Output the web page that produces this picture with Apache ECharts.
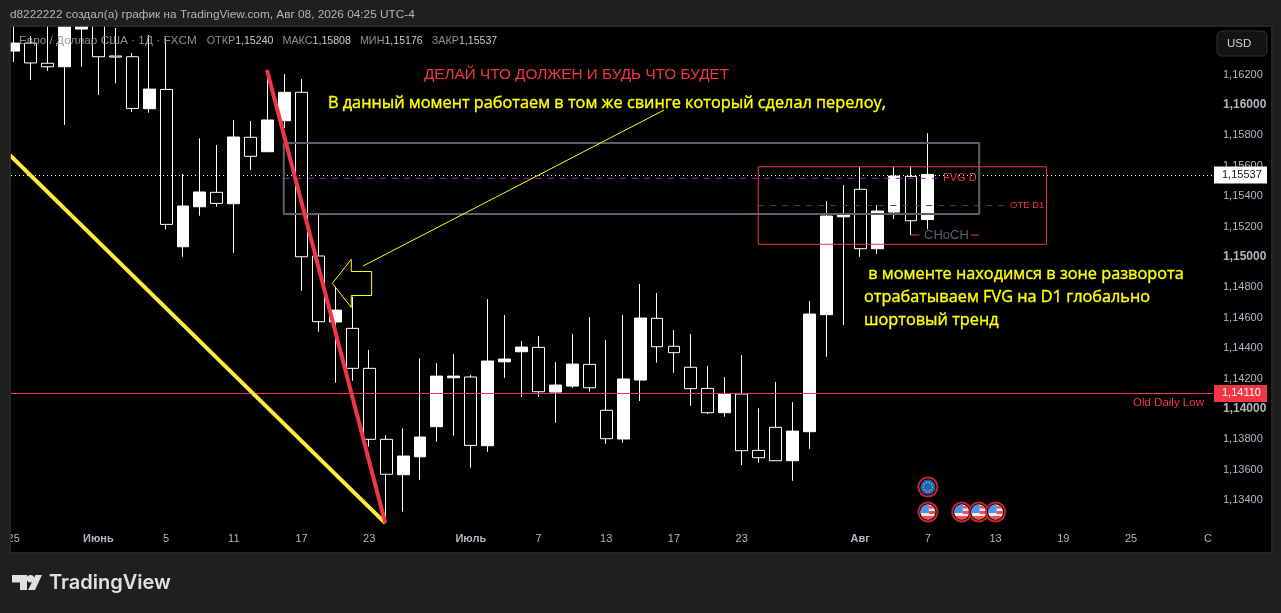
<!DOCTYPE html>
<html><head><meta charset="utf-8">
<style>html,body{margin:0;padding:0;background:#1f1f1f;overflow:hidden}#c{width:1281px;height:613px}</style>
<script src="https://cdn.jsdelivr.net/npm/echarts@6/dist/echarts.min.js"></script>
</head><body><div id="c"></div>
<script>
// candles: index = trading day
const opens=[1.16348,1.16401,1.16268,1.16245,1.16493,1.16539,1.16316,1.16311,1.15969,1.16096,1.15061,1.15324,1.15419,1.15344,1.15781,1.15686,1.1589,1.16077,1.15,1.14566,1.14524,1.14261,1.13794,1.13561,1.13679,1.13877,1.14199,1.14204,1.13752,1.14304,1.1437,1.14399,1.14105,1.14144,1.14287,1.13985,1.13796,1.14184,1.1459,1.14406,1.14268,1.14129,1.13969,1.14092,1.13721,1.13873,1.13653,1.13844,1.14614,1.15258,1.15439,1.15048,1.15289,1.15524,1.1524];
const closes=[1.16401,1.1627,1.16245,1.16552,1.16539,1.16311,1.16309,1.15971,1.16098,1.15208,1.15329,1.15421,1.15346,1.15783,1.15656,1.15895,1.16077,1.14995,1.14568,1.14644,1.14261,1.13794,1.13564,1.13684,1.13809,1.1421,1.1421,1.13754,1.14309,1.14322,1.14401,1.14107,1.14151,1.14289,1.14133,1.13798,1.14191,1.14592,1.14403,1.14364,1.14127,1.13969,1.14094,1.13719,1.13673,1.13653,1.13848,1.14618,1.15263,1.1527,1.15048,1.15296,1.15526,1.15232,1.15537];
const lows=[1.16276,1.16158,1.16219,1.15862,1.16245,1.16059,1.16136,1.15949,1.15943,1.15175,1.14995,1.15265,1.15324,1.15021,1.15566,1.15686,1.15842,1.14771,1.14502,1.14166,1.14179,1.13745,1.13243,1.13318,1.13528,1.13778,1.13818,1.13607,1.13712,1.14199,1.14074,1.14074,1.13903,1.14133,1.14107,1.13765,1.13771,1.14046,1.14298,1.14232,1.14015,1.1396,1.13943,1.13625,1.1364,1.13653,1.13521,1.13732,1.14337,1.14546,1.14995,1.15013,1.15243,1.15136,1.15176];
const highs=[1.16552,1.16447,1.16552,1.1659,1.1659,1.1659,1.165,1.16335,1.16454,1.16434,1.15539,1.15774,1.1573,1.15895,1.15888,1.16223,1.16197,1.16164,1.1527,1.14798,1.14732,1.14381,1.13822,1.13866,1.14327,1.14294,1.14355,1.14217,1.14717,1.14612,1.14441,1.14474,1.14302,1.14487,1.14598,1.14447,1.14612,1.14816,1.14756,1.14513,1.14487,1.14276,1.14204,1.14348,1.13998,1.14171,1.14039,1.14704,1.15362,1.15467,1.15585,1.15335,1.15585,1.15587,1.15808];

const priceTicks=[1.134,1.136,1.138,1.14,1.142,1.144,1.146,1.148,1.15,1.152,1.154,1.156,1.158,1.16,1.162];
const boldPrices=[1.14,1.15,1.16];
const dateTickIndex=[0,5,9,13,17,21,27,31,35,39,43,50,54,58,62,66,70.54];
const dateTickLabels=['25','Июнь','5','11','17','23','Июль','7','13','17','23','Авг','7','13','19','25','С'];
const boldDates=['Июнь','Июль','Авг'];

const lastPrice=1.15537, lastPriceLine=1.15533;
const lowLevelLabel=1.1411, lowLevelLine=1.14096;

// drawings, in [day index, price]
const yellowTrend=[[-0.22,1.15664],[21.95,1.13243]];
const redTrend=[[14.96,1.16223],[21.95,1.13243]];
const thinLine=[[20.63,1.14934],[38.41,1.1596]];
const arrowShape=[[18.82,1.14820],[19.94,1.14978],[19.94,1.14898],[21.14,1.14898],[21.14,1.14740],[19.94,1.14740],[19.94,1.14662],[18.82,1.14820]];
const grayBox=[[15.95,1.15743],[57.03,1.15743],[57.03,1.15276],[15.95,1.15276],[15.95,1.15743]];
const redBox=[[43.98,1.15587],[61.01,1.15587],[61.01,1.15077],[43.98,1.15077],[43.98,1.15587]];
const fvgLine=[[15.95,1.15511],[54.6,1.15511]];
const oteLine=[[43.98,1.15332],[58.6,1.15332]];
const chochTicks=[[52.95,1.15138],[53.5,1.15138],null,[56.55,1.15138],[57.03,1.15138]];
const euEvents=[[54,1.1348]];
const usEvents=[[54,1.13316],[56,1.13316],[57,1.13316],[58,1.13316]];

const noteTop='ДЕЛАЙ ЧТО ДОЛЖЕН И БУДЬ ЧТО БУДЕТ';
const noteMain='В данный момент работаем в том же свинге который сделал перелоу,';
const noteSide=[' в моменте находимся в зоне разворота','отрабатываем FVG на D1 глобально','шортовый тренд'];
const headerText='d8222222 создал(а) график на TradingView.com, Авг 08, 2026 04:25 UTC-4';

const RED='#f23645', YEL='#ffff00', GRAY='#5d606b';
const F='"Liberation Sans",Arial,sans-serif', FN='"Open Sans",sans-serif';
const line=(data,color,width,z,type)=>({type:'line',data,symbol:'none',silent:true,z,animation:false,connectNulls:false,
  lineStyle:{color,width,type:type||'solid',cap:'butt'}});
const txt=(x,y,text,fill,size,family,extra)=>({type:'text',z:40,silent:true,x,y,style:Object.assign({text,fill,font:`${size}px ${family||F}`,textVerticalAlign:'middle'},extra||{})});
const note=(x,y,text)=>txt(x,y,text,YEL,16.3,FN,{stroke:YEL,lineWidth:0.35});

function flag(kind){return function(params,api){
  const p=api.coord([api.value(0),api.value(1)]),x=p[0],y=p[1];
  const kids=[{type:'circle',shape:{cx:x,cy:y,r:9.5},style:{fill:'#000',stroke:'#c9222f',lineWidth:2}}];
  if(kind==='eu'){
    kids.push({type:'circle',shape:{cx:x,cy:y,r:7.5},style:{fill:'#1565c0'}});
    for(let k=0;k<10;k++){const a=k*Math.PI/5;kids.push({type:'circle',shape:{cx:x+4.6*Math.cos(a),cy:y+4.6*Math.sin(a),r:0.8},style:{fill:'#d8b93a'}});}
  }else{
    kids.push({type:'group',clipPath:{type:'circle',shape:{cx:x,cy:y,r:7.5}},children:[
      {type:'rect',shape:{x:x-8,y:y-8,width:16,height:16},style:{fill:'#f9e9e9'}},
      {type:'rect',shape:{x:x-8,y:y-8,width:9,height:9},style:{fill:'#4a95ee'}},
      {type:'rect',shape:{x:x+1,y:y-6,width:7,height:2.5},style:{fill:'#ef5350'}},
      {type:'rect',shape:{x:x+1,y:y-1,width:7,height:3},style:{fill:'#ef5350'}},
      {type:'rect',shape:{x:x-8,y:y+4,width:16,height:4},style:{fill:'#ef5350'}}
    ]});
  }
  return {type:'group',children:kids};
};}

const chart=echarts.init(document.getElementById('c'),null,{renderer:'canvas'});
chart.setOption({
  animation:false,backgroundColor:'#1f1f1f',
  grid:{left:11,right:68,top:27,bottom:87,containLabel:false},
  xAxis:{type:'value',min:-0.1595,max:70.84,
    axisLine:{show:false},axisTick:{show:false},splitLine:{show:false},
    axisLabel:{customValues:dateTickIndex,margin:7,color:'#b2b5be',fontFamily:F,fontSize:11,hideOverlap:false,showMinLabel:true,showMaxLabel:true,
      formatter:v=>{const l=dateTickLabels[dateTickIndex.indexOf(v)];return boldDates.includes(l)?`{b|${l}}`:l;},
      rich:{b:{fontWeight:'bold',fontSize:11,color:'#b2b5be',fontFamily:F}}}},
  yAxis:{type:'value',position:'right',min:1.132237,max:1.165066,
    axisLine:{show:false},axisTick:{show:false},splitLine:{show:false},
    axisLabel:{customValues:priceTicks,margin:10,color:'#b2b5be',fontFamily:F,fontSize:11,hideOverlap:false,padding:[2,0,0,0],
      formatter:v=>{const s=v.toFixed(5).replace('.',',');return boldPrices.includes(+v.toFixed(3))?`{b|${s}}`:s;},
      rich:{b:{fontWeight:'bold',fontSize:12,color:'#b2b5be',fontFamily:F}}}},
  series:[
    {type:'candlestick',z:3,barWidth:12.4,animation:false,silent:true,clip:true,
     encode:{x:0,y:[1,2,3,4]},
     data:opens.map((o,i)=>[i,o,closes[i],lows[i],highs[i]]),
     itemStyle:{color:'#ffffff',color0:'#000000',borderColor:'#ffffff',borderColor0:'#ffffff',borderWidth:1}},
    line(grayBox,GRAY,2,5),
    line(redBox,RED,1,5),
    line(fvgLine,'#9c27b0',1,4,[6,6]),
    line(oteLine,'#434651',1,4,[6,6]),
    line(chochTicks,RED,1,5),
    line(yellowTrend,'#ffeb3b',4,6),
    line(redTrend,RED,4,7),
    line(thinLine,YEL,1,6),
    line(arrowShape,YEL,1,6),
    {type:'line',data:[[0,lastPriceLine]],symbol:'none',z:8,silent:true,
     markLine:{silent:true,symbol:'none',animation:false,precision:5,data:[
      {yAxis:lastPriceLine,lineStyle:{color:'#ffffff',width:1,type:[1,3]},
       label:{position:'end',distance:1,formatter:lastPrice.toFixed(5).replace('.',','),backgroundColor:'#ffffff',color:'#131722',fontFamily:F,fontSize:11,padding:[2,6,2,8],width:39,height:13,lineHeight:13}},
      {yAxis:lowLevelLine,lineStyle:{color:RED,width:1,type:'solid'},
       label:{position:'end',distance:1,formatter:lowLevelLabel.toFixed(5).replace('.',','),backgroundColor:RED,color:'#ffffff',fontFamily:F,fontSize:11,padding:[2,6,2,8],width:39,height:13,lineHeight:13}}
     ]}},
    {type:'custom',z:9,silent:true,data:euEvents,renderItem:flag('eu'),encode:{x:0,y:1}},
    {type:'custom',z:9,silent:true,data:usEvents,renderItem:flag('us'),encode:{x:0,y:1}}
  ],
  graphic:{elements:[
    {type:'rect',z:-10,silent:true,shape:{x:11,y:27,width:1260,height:525},style:{fill:'#000'}},
    {type:'rect',z:30,silent:true,shape:{x:0,y:0,width:10,height:613},style:{fill:'#1f1f1f'}},
    {type:'rect',z:30,silent:true,shape:{x:0,y:0,width:1281,height:26},style:{fill:'#1f1f1f'}},
    {type:'rect',z:31,silent:true,shape:{x:10,y:26,width:1262,height:527},style:{fill:'none',stroke:'#2a2a2a',lineWidth:1.5}},
    {type:'rect',z:30,silent:true,shape:{x:0,y:553.5,width:1281,height:60},style:{fill:'#1f1f1f'}},
    txt(10,15,headerText,'#b2b5be',11.8),
    {type:'text',z:40,silent:true,x:19,y:41,style:{
      rich:{g:{fill:'#9598a1',font:`11.8px ${F}`},l:{fill:'#9598a1',font:`10.8px ${F}`},v:{fill:'#d1d4dc',font:`10.6px ${F}`}},
      text:'{g|Евро / Доллар США · 1Д · FXCM   }{l|ОТКР}{v|1,15240}{l|   МАКС}{v|1,15808}{l|   МИН}{v|1,15176}{l|   ЗАКР}{v|1,15537}',
      textVerticalAlign:'middle',opacity:0.95}},
    txt(424,75,noteTop,RED,15.3),
    note(328,103,noteMain),
    note(864,274,noteSide[0]),
    note(864,297,noteSide[1]),
    note(864,320,noteSide[2]),
    txt(943,178,'FVG D',RED,11),
    txt(1010,205,'OTE D1',RED,9.5),
    txt(924,235,'CHoCH',GRAY,13),
    txt(1133,403,'Old Daily Low',RED,11.5),
    {type:'rect',z:40,silent:true,shape:{x:1217,y:31,width:50,height:25,r:5},style:{fill:'#141414',stroke:'#333',lineWidth:1}},
    txt(1227,44,'USD','#d1d4dc',11.5),
    {type:'polygon',z:40,silent:true,shape:{points:[[12,575],[27,575],[27,590],[20,590],[20,582.5],[12,582.5]]},style:{fill:'#e0e0e0'}},
    {type:'circle',z:40,silent:true,shape:{cx:30.5,cy:578.7,r:3.7},style:{fill:'#e0e0e0'}},
    {type:'polygon',z:40,silent:true,shape:{points:[[35.5,575],[42,575],[35,590],[28,590]]},style:{fill:'#e0e0e0'}},
    {type:'text',z:40,silent:true,x:49,y:583,style:{text:'TradingView',fill:'#e0e0e0',font:'600 20px Inter,sans-serif',textVerticalAlign:'middle'}}
  ]}
});
</script></body></html>
